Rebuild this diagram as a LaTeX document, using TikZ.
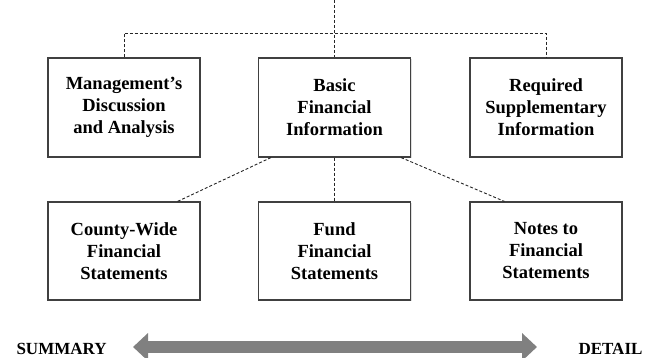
\documentclass[tikz,border=0pt]{standalone}
\usepackage{fontspec}
\setmainfont{Liberation Serif}
\usetikzlibrary{arrows.meta,shadows}
\definecolor{barGray}{RGB}{128,128,128}

\begin{document}
\begin{tikzpicture}[x=1pt, y=1pt,
  part/.style={rectangle, draw=black!75, line width=1.2pt, fill=white,
    minimum width=152pt, minimum height=99pt, inner sep=0pt, align=center,
    font=\fontsize{18.5}{22}\selectfont\bfseries,
    drop shadow={shadow xshift=1pt, shadow yshift=-1pt, opacity=0.25}},
  link/.style={draw=black!85, line width=0.9pt, dash pattern=on 3pt off 2pt},
  side/.style={font=\fontsize{17}{20}\selectfont\bfseries}]
\useasboundingbox (0,0) rectangle (647,358);

  % top row
  \node[part] (mda) at (124,250.5) {Management's\\Discussion\\and Analysis};
  \node[part] (bfi) at (334.5,250.5) {Basic\\Financial\\Information};
  \node[part] (rsi) at (546,250.5) {Required\\Supplementary\\Information};

  % bottom row
  \node[part, minimum height=98pt] (cwfs) at (124,107) {County-Wide\\Financial\\Statements};
  \node[part, minimum height=98pt] (ffs) at (334.5,107) {Fund\\Financial\\Statements};
  \node[part, minimum height=98pt] (ntfs) at (546,107) {Notes to\\Financial\\Statements};

  % dashed links
  \coordinate (top) at (334.5,358);
  \coordinate (hub) at (334.5,325);
  \draw[link] (top) -- (bfi.north);
  \draw[link] (mda.north) |- (hub) -| (rsi.north);
  \draw[link] ([xshift=13pt]bfi.south west) -- ([xshift=-23pt]cwfs.north east);
  \draw[link] (bfi.south) -- (ffs.north);
  \draw[link] ([xshift=-10pt]bfi.south east) -- ([xshift=35pt]ntfs.north west);

  % summary -- detail scale
  \node[side, anchor=base west] (sum) at (13,3) {SUMMARY};
  \node[side, anchor=base east] (det) at (646,3) {DETAIL};
  \coordinate (lo) at (133,11);
  \coordinate (hi) at (537,11);
  \draw[barGray, line width=12pt,
        {Triangle[length=15pt, width=27pt]}-{Triangle[length=15pt, width=27pt]}] (lo) -- (hi);
\end{tikzpicture}
\end{document}
